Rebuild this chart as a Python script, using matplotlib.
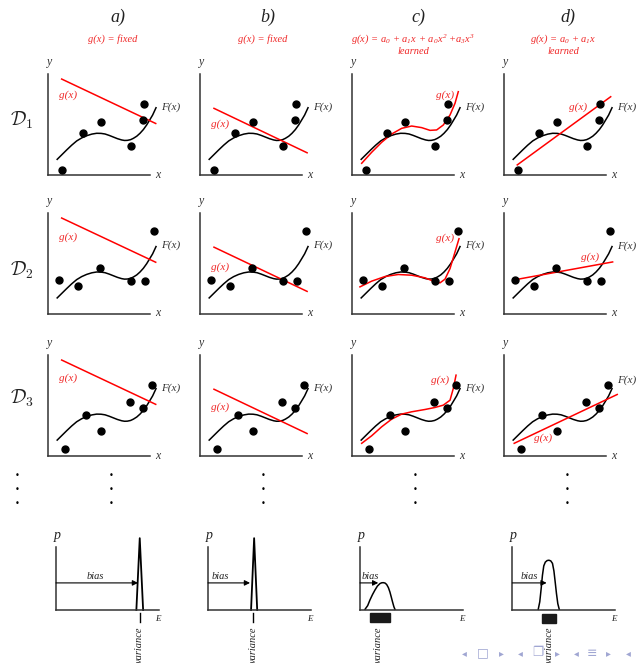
import numpy as np
import matplotlib
matplotlib.use("Agg")
from matplotlib import pyplot as plt
from matplotlib.patches import Rectangle

plt.rcParams['mathtext.fontset'] = 'custom'
plt.rcParams['mathtext.it'] = 'Liberation Serif:italic'
plt.rcParams['mathtext.rm'] = 'Liberation Serif:italic'

W, H = 639, 663

# --- data (axes units 0..1) ---
F_x = [0.09, 0.135, 0.183, 0.232, 0.281, 0.33, 0.379, 0.43, 0.477, 0.52, 0.559, 0.60, 0.64,
       0.68, 0.722, 0.75, 0.778, 0.81, 0.837, 0.87, 0.902, 0.935, 0.967, 1.0, 1.026, 1.059]
F_y = [0.155, 0.2, 0.248, 0.295, 0.337, 0.367, 0.389, 0.405, 0.413, 0.412, 0.406, 0.392, 0.376,
       0.36, 0.347, 0.342, 0.343, 0.35, 0.363, 0.384, 0.413, 0.45, 0.495, 0.55, 0.594, 0.666]

D_x = [[0.14, 0.34, 0.516, 0.81, 0.935, 0.94],
       [0.111, 0.291, 0.505, 0.812, 0.948, 1.036],
       [0.168, 0.37, 0.517, 0.805, 0.935, 1.02]]
D_y = [[0.052, 0.413, 0.522, 0.29, 0.545, 0.703],
       [0.33, 0.278, 0.455, 0.326, 0.327, 0.824],
       [0.063, 0.40, 0.249, 0.53, 0.472, 0.705]]

# fixed lines (columns a, b)
fixed_a = ([0.134, 1.056], [0.95, 0.51])
fixed_b = ([0.137, 1.05], [0.66, 0.22])

# cubic fits (column c)
cub_x = [[0.095, 0.193, 0.291, 0.389, 0.487, 0.585, 0.683, 0.765, 0.83, 0.895, 0.961, 1.01, 1.042],
         [0.078, 0.193, 0.324, 0.454, 0.585, 0.716, 0.797, 0.863, 0.912, 0.961, 1.01, 1.049],
         [0.095, 0.193, 0.291, 0.389, 0.487, 0.585, 0.716, 0.814, 0.895, 0.961, 0.993, 1.02]]
cub_y = [[0.116, 0.225, 0.324, 0.406, 0.462, 0.485, 0.469, 0.442, 0.446, 0.495, 0.594, 0.71, 0.825],
         [0.265, 0.322, 0.368, 0.388, 0.381, 0.355, 0.322, 0.305, 0.342, 0.447, 0.612, 0.744],
         [0.123, 0.198, 0.287, 0.363, 0.413, 0.436, 0.459, 0.479, 0.502, 0.551, 0.667, 0.8]]

# linear fits (column d)
lin_x = [[0.13, 1.046], [0.124, 1.065], [0.10, 1.11]]
lin_y = [[0.10, 0.775], [0.339, 0.513], [0.123, 0.608]]

# g(x) label positions per column / row
glab = {0: [(0.2, 0.79), (0.2, 0.76), (0.2, 0.77)],
        1: [(0.2, 0.5), (0.2, 0.46), (0.2, 0.48)],
        2: [(0.91, 0.79), (0.91, 0.745), (0.86, 0.75)],
        3: [(0.73, 0.67), (0.84, 0.56), (0.385, 0.17)]}
flab_y = [[0.67, 0.68, 0.67]] * 3 + [[0.67, 0.67, 0.75]]

col_titles = ['a)', 'b)', 'c)', 'd)']
col_sub = ['g(x) = fixed', 'g(x) = fixed',
           r'$g(x)\,=\,a_0\,+\,a_1x\,+\,a_0x^2\ {+}a_3x^3$', r'$g(x)\,=\,a_0\,+\,a_1x$']
row_labels = [r'$\mathcal{D}_1$', r'$\mathcal{D}_2$', r'$\mathcal{D}_3$']

# bottom row: error distributions
spike_x = [[0.784, 0.817, 0.85], [0.42, 0.45, 0.48]]
spike_y = [[0.0, 1.14, 0.0], [0.0, 1.14, 0.0]]
bell_x = [[0.049, 0.075, 0.097, 0.122, 0.146, 0.17, 0.195, 0.212, 0.227, 0.244, 0.26,
           0.277, 0.292, 0.306, 0.318, 0.331, 0.341],
          [0.253, 0.268, 0.281, 0.294, 0.307, 0.322, 0.34, 0.357, 0.375, 0.392, 0.406,
           0.418, 0.431, 0.444, 0.458]]
bell_y = [[0.011, 0.07, 0.159, 0.245, 0.317, 0.38, 0.42, 0.432, 0.434, 0.428, 0.405,
           0.355, 0.285, 0.2, 0.125, 0.05, 0.011],
          [0.011, 0.13, 0.33, 0.55, 0.7, 0.76, 0.785, 0.79, 0.78, 0.74, 0.62,
           0.45, 0.26, 0.1, 0.011]]
bias_end = [0.80, 0.41, 0.178, 0.335]
var_center = [0.817, 0.44, 0.178, 0.36]
var_rect = [None, None, (0.097, 0.292, 0.043, 0.195), (0.292, 0.423, 0.063, 0.211)]

serif = dict(family='Liberation Serif', style='italic')
RED = '#ff0000'
RED_T = '#f02828'
GREY = '#333333'


def make_axes(fig, left, top, right, bottom):
    ax = fig.add_axes([left / W, 1 - bottom / H, (right - left) / W, (bottom - top) / H])
    ax.set_xlim(0, 1)
    ax.set_ylim(0, 1)
    ax.set_facecolor('none')
    ax.spines[['top', 'right']].set_visible(False)
    for s in ['left', 'bottom']:
        ax.spines[s].set_color(GREY)
        ax.spines[s].set_linewidth(1.1)
    ax.set_xticks([])
    ax.set_yticks([])
    return ax


fig = plt.figure(figsize=(W / 100, H / 100), dpi=100)

col_left = [48, 200, 352, 504]
row_box = [(74, 175), (213, 313.5), (355, 455.7)]
title_x = [118, 268, 418, 568]

for c in range(4):
    fig.text(title_x[c] / W, 1 - 17 / H, col_titles[c], fontsize=13, color='#222222',
             ha='center', va='center', **serif)
    fig.text((title_x[c] - 5) / W, 1 - 39 / H, col_sub[c], fontsize=7.5, color=RED_T,
             ha='center', va='center', **serif)
    if c >= 2:
        fig.text((title_x[c] - 5) / W, 1 - 52 / H, 'learned', fontsize=7.5, color=RED_T,
                 ha='center', va='center', **serif)

for r, (top, bot) in enumerate(row_box):
    fig.text(22 / W, 1 - [120, 270, 398][r] / H, row_labels[r], fontsize=14,
             color='#222222', ha='center', va='center', math_fontfamily='cm')
    for c in range(4):
        ax = make_axes(fig, col_left[c], top, col_left[c] + 102, bot)
        ax.text(0.02, 1.12, 'y', fontsize=8.5, color=GREY, ha='center', va='center', **serif)
        ax.text(1.08, 0.0, 'x', fontsize=8.5, color=GREY, ha='center', va='center', **serif)
        ax.plot(F_x, F_y, color='black', lw=1.1, clip_on=False)
        if c == 0:
            ax.plot(*fixed_a, color=RED, lw=1.1, clip_on=False)
        elif c == 1:
            ax.plot(*fixed_b, color=RED, lw=1.1, clip_on=False)
        elif c == 2:
            ax.plot(cub_x[r], cub_y[r], color=RED, lw=1.1, clip_on=False)
        else:
            ax.plot(lin_x[r], lin_y[r], color=RED, lw=1.1, clip_on=False)
        ax.plot(D_x[r], D_y[r], 'o', color='black', ms=5, clip_on=False, zorder=5)
        gx, gy = glab[c][r]
        ax.text(gx, gy, 'g(x)', fontsize=8, color=RED_T, ha='center', va='center', **serif)
        ax.text(1.2, flab_y[c][r], 'F(x)', fontsize=8, color=GREY, ha='center',
                va='center', **serif)

# vertical dots
for xd in [17, 111, 263, 415, 567]:
    for yd in [476, 490, 504]:
        fig.text(xd / W, 1 - yd / H, '\u2022', fontsize=6, color='black',
                 ha='center', va='center')

# bottom row
bot_left = [56, 208, 360, 512.3]
for c in range(4):
    ax = make_axes(fig, bot_left[c], 547, bot_left[c] + 102.5, 610)
    ax.text(0.01, 1.18, 'p', fontsize=10, color='#222222', ha='center', va='center', **serif)
    ax.text(0.99, -0.14, 'E', fontsize=6.5, color='#222222', ha='center', va='center', **serif)
    if c < 2:
        ax.plot(spike_x[c], spike_y[c], color='black', lw=1.3, clip_on=False)
        ax.plot([var_center[c]] * 2, [-0.05, -0.19], color='black', lw=1.0, clip_on=False)
    else:
        ax.plot(bell_x[c - 2], bell_y[c - 2], color='black', lw=1.1, clip_on=False)
        x0, x1, y0, y1 = var_rect[c]
        ax.add_patch(Rectangle((x0, -y1), x1 - x0, y1 - y0, color='#1a1a1a', clip_on=False))
    ax.annotate('', xy=(bias_end[c], 0.43), xytext=(0.0, 0.43),
                arrowprops=dict(arrowstyle='-|>', color='black', lw=0.8,
                                mutation_scale=8, shrinkA=0, shrinkB=0))
    bx = [0.38, 0.12, 0.1, 0.17][c]
    ax.text(bx, 0.53, 'bias', fontsize=7.5, color='#222222', ha='center', va='center', **serif)
    ax.text(var_center[c], -0.26, 'variance', fontsize=7.5, color='#222222', rotation=90,
            ha='center', va='top', **serif)

# beamer navigation symbols
nav = ['\u25c2', '\u25a1', '\u25b8', '\u25c2', '\u2750', '\u25b8', '\u25c2', '\u2261',
       '\u25b8', '\u25c2']
nav_x = [464, 483, 501, 520, 538, 557, 576, 592, 608, 628]
for s, xn in zip(nav, nav_x):
    fig.text(xn / W, 1 - 653 / H, s, fontsize=9 if s not in '\u25c2\u25b8' else 7,
             color='#a0a6d2', ha='center', va='center', family='DejaVu Sans')

fig.savefig('out.png', dpi=100)
